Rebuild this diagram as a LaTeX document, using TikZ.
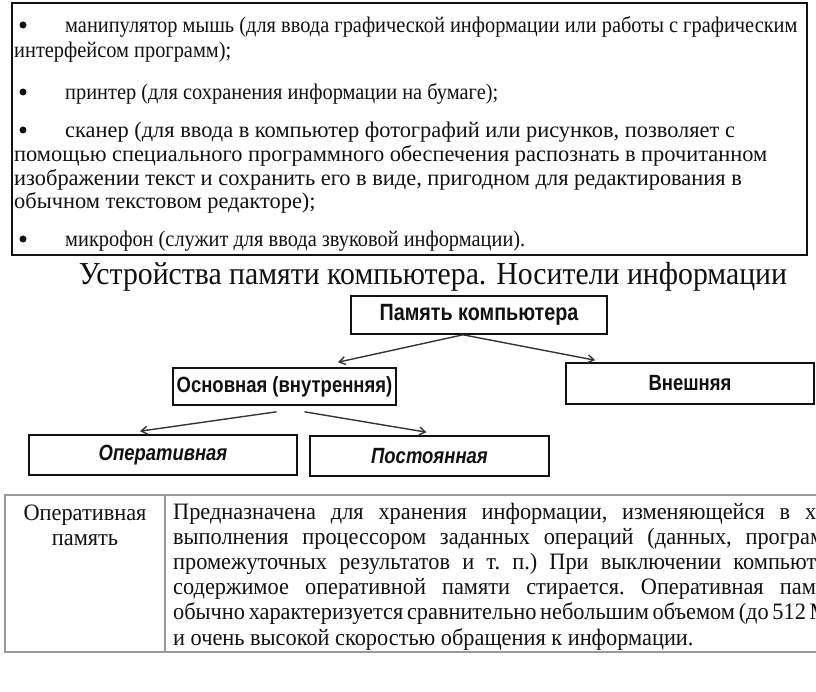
\documentclass[tikz,border=0pt]{standalone}
\usepackage{fontspec}
\setmainfont{Liberation Serif}
\newfontfamily\narrowserif[FakeStretch=0.91]{Liberation Serif}
\newfontfamily\cellserif[FakeStretch=0.95]{Liberation Serif}
\newfontfamily\titleserif[FakeStretch=0.93]{Liberation Serif}
\newfontfamily\diagfont[FakeStretch=0.84]{Liberation Sans}
\usetikzlibrary{arrows.meta}
\definecolor{ink}{HTML}{111111}
\definecolor{rulegray}{HTML}{9A9A9A}
\tikzset{
  txt/.style={anchor=base west,inner sep=0pt,text=ink,font=\narrowserif\fontsize{22.4}{24}\selectfont},
  bigtxt/.style={txt,font=\fontsize{22.4}{24}\selectfont},
  celltxt/.style={txt,font=\cellserif\frenchspacing\fontsize{23.5}{25}\selectfont},
  dot/.style={circle,fill=ink,inner sep=0pt,minimum size=7pt},
  block/.style={draw=ink,line width=1.6pt,inner sep=0pt,minimum height=38pt,
    text=ink,font=\diagfont\bfseries\fontsize{22}{24}\selectfont},
  iblock/.style={block,minimum height=40pt,font=\diagfont\bfseries\itshape\fontsize{22}{24}\selectfont},
  arr/.style={-{Straight Barb[length=6pt,width=8pt]},line width=1.4pt,draw=ink!85}
}

\begin{document}
\begin{tikzpicture}[x=1pt,y=-1pt]
  \useasboundingbox (0,0) rectangle (816,692);
  \fill[white] (0,0) rectangle (816,692);

  % list of devices
  \draw[draw=ink,line width=1.8pt] (12,3) rectangle (807,255);
  \node[dot] (d1) at (23,25) {};
  \node[txt] (l1) at (65,33) {манипулятор мышь (для ввода графической информации или работы с графическим};
  \node[txt] (l2) at (14,58) {интерфейсом программ);};
  \node[dot] (d2) at (23,92) {};
  \node[txt] (l3) at (65,100) {принтер (для сохранения информации на бумаге);};
  \node[dot] (d3) at (23,130) {};
  \node[bigtxt] (l4) at (65,138) {сканер (для ввода в компьютер фотографий или рисунков, позволяет с};
  \node[bigtxt] (l5) at (14,162) {помощью специального программного обеспечения распознать в прочитанном};
  \node[bigtxt] (l6) at (14,186) {изображении текст и сохранить его в виде, пригодном для редактирования в};
  \node[bigtxt] (l7) at (14,209) {обычном текстовом редакторе);};
  \node[dot] (d4) at (23,239) {};
  \node[txt] (l8) at (65,247) {микрофон (служит для ввода звуковой информации).};

  \node[anchor=base,inner sep=0pt,text=ink,font=\titleserif\fontsize{32}{36}\selectfont] (title) at (433,285)
    {Устройства памяти компьютера. Носители информации};

  % memory tree
  \node[block,minimum width=256pt,font=\diagfont\bfseries\fontsize{23.5}{26}\selectfont] (pc) at (479,315) {Память компьютера};
  \node[block,minimum width=223pt,minimum height=37pt] (main) at (284.5,386.5) {Основная (внутренняя)};
  \node[block,minimum width=248pt,minimum height=41pt] (ext) at (690,383.5) {Внешняя};
  \node[iblock,minimum width=268pt] (ram) at (163,455) {Оперативная};
  \node[iblock,minimum width=239pt] (rom) at (429.5,456) {Постоянная};
  \draw[arr] ([xshift=-16pt]pc.south) -- ([xshift=53.5pt,yshift=5pt]main.north);
  \draw[arr] ([xshift=-16pt]pc.south) -- ([xshift=-95pt,yshift=2pt]ext.north);
  \draw[arr] ([xshift=-8pt,yshift=-6pt]main.south) -- ([xshift=-23pt,yshift=3pt]ram.north);
  \draw[arr] ([xshift=20pt,yshift=-6pt]main.south) -- ([xshift=-3pt,yshift=3pt]rom.north);

  % table row
  \draw[rulegray,line width=1.3pt] (816,495) -- (5,495) -- (5,652) -- (816,652);
  \draw[rulegray,line width=1.3pt] (165,495) -- (165,652);
  \node[celltxt,anchor=base] (c1) at (85,520) {Оперативная};
  \node[celltxt,anchor=base] (c2) at (85,545) {память};
  \begin{scope}
    \clip (0,0) rectangle (816,692);
    \node[celltxt] (r1) at (173,519) {\makebox[643pt][s]{Предназначена для хранения информации, изменяющейся в х}};
    \node[celltxt] (r2) at (173,544) {\makebox[651pt][s]{выполнения процессором заданных операций (данных, програм}};
    \node[celltxt] (r3) at (173,569) {\makebox[653pt][s]{промежуточных результатов и т. п.) При выключении компьюте}};
    \node[celltxt] (r4) at (173,594) {\makebox[653pt][s]{содержимое оперативной памяти стирается. Оперативная памя}};
    \node[celltxt] (r5) at (173,619) {\makebox[655pt][s]{обычно характеризуется сравнительно небольшим объемом (до 512 М}};
    \node[celltxt] (r6) at (173,645) {и очень высокой скоростью обращения к информации.};
  \end{scope}
\end{tikzpicture}
\end{document}
